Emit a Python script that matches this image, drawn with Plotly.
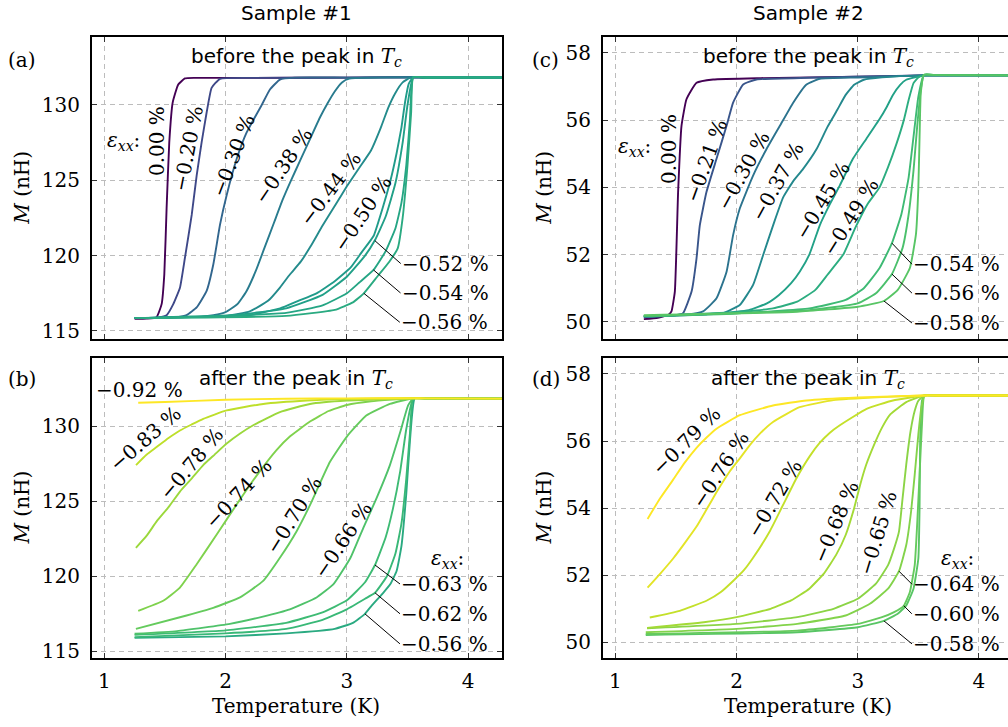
import plotly.graph_objects as go
from plotly.colors import sample_colorscale

W, H = 1008, 727
SERIF = "DejaVu Serif"
SANS = "DejaVu Sans"

# ---------------- Sample #1, before the peak (panel a) ----------------
a_strain = [0.00, -0.20, -0.30, -0.38, -0.44, -0.50, -0.52, -0.54, -0.56]
a000_T = [1.25, 1.35, 1.43, 1.473, 1.495, 1.514, 1.536, 1.564, 1.61, 1.665, 1.75, 2.2, 3.0, 3.547, 3.65, 4.3]
a000_M = [115.8, 115.82, 115.9, 116.78, 118.75, 123.14, 127.53, 130.16, 131.36, 131.76, 131.8, 131.8, 131.82, 131.84, 131.83, 131.82]
a020_T = [1.25, 1.45, 1.514, 1.569, 1.624, 1.665, 1.721, 1.762, 1.803, 1.844, 1.885, 1.954, 2.2, 3.0, 3.547, 3.65, 4.3]
a020_M = [115.85, 115.9, 116.05, 116.78, 117.87, 119.85, 122.7, 125.33, 127.53, 129.5, 131.14, 131.74, 131.8, 131.82, 131.84, 131.83, 131.82]
a030_T = [1.25, 1.6, 1.679, 1.762, 1.844, 1.899, 1.954, 2.009, 2.092, 2.174, 2.298, 2.366, 2.448, 2.572, 3.0, 3.547, 3.65, 4.3]
a030_M = [115.85, 115.92, 116.05, 116.56, 117.66, 119.41, 122.04, 124.01, 126.43, 128.18, 130.0, 131.03, 131.69, 131.82, 131.82, 131.84, 131.83, 131.82]
a038_T = [1.25, 1.8, 1.9, 2.0, 2.1, 2.17, 2.25, 2.32, 2.4, 2.47, 2.54, 2.62, 2.7, 2.78, 2.84, 2.9, 2.96, 3.02, 3.547, 3.65, 4.3]
a038_M = [115.85, 115.95, 116.05, 116.25, 116.8, 117.6, 119.0, 120.5, 122.2, 123.7, 125.0, 126.4, 127.8, 129.2, 130.1, 130.9, 131.5, 131.75, 131.84, 131.83, 131.82]
a044_T = [1.25, 2.0, 2.2, 2.35, 2.45, 2.53, 2.62, 2.7, 2.8, 2.9, 3.0, 3.1, 3.2, 3.28, 3.34, 3.4, 3.46, 3.52, 3.547, 3.65, 4.3]
a044_M = [115.85, 116.0, 116.3, 117.0, 117.9, 118.75, 119.6, 120.6, 122.0, 123.3, 124.6, 125.8, 127.0, 128.5, 129.8, 130.8, 131.5, 131.8, 131.84, 131.83, 131.82]
a050_T = [1.25, 2.2, 2.45, 2.6, 2.75, 2.9, 3.03, 3.12, 3.22, 3.3, 3.36, 3.41, 3.45, 3.48, 3.51, 3.547, 3.65, 4.3]
a050_M = [115.85, 116.05, 116.5, 117.0, 117.5, 118.3, 119.2, 120.2, 121.3, 123.3, 125.0, 126.8, 128.5, 130.2, 131.4, 131.84, 131.83, 131.82]
a052_T = [1.25, 2.0, 2.5, 2.8, 3.0, 3.15, 3.23, 3.32, 3.4, 3.46, 3.5, 3.547, 3.65, 4.3]
a052_M = [115.85, 116.0, 116.5, 117.4, 118.6, 120.0, 121.0, 122.6, 124.8, 127.5, 130.0, 131.84, 131.83, 131.82]
a054_T = [1.25, 2.5, 2.8, 3.0, 3.1, 3.22, 3.32, 3.4, 3.45, 3.49, 3.52, 3.547, 3.65, 4.3]
a054_M = [115.85, 116.2, 116.7, 117.5, 118.2, 119.05, 120.3, 121.8, 123.5, 126.0, 129.0, 131.84, 131.83, 131.82]
a056_T = [1.25, 2.5, 2.9, 3.05, 3.14, 3.25, 3.35, 3.42, 3.46, 3.5, 3.53, 3.547, 3.65, 4.3]
a056_M = [115.85, 116.0, 116.4, 116.9, 117.5, 118.6, 119.6, 120.5, 122.5, 126.0, 129.5, 131.84, 131.83, 131.82]

# ---------------- Sample #1, after the peak (panel b) ----------------
b_strain = [-0.56, -0.62, -0.63, -0.66, -0.70, -0.74, -0.78, -0.83, -0.92]
b056_T = [1.25, 2.0, 2.5, 2.9, 3.05, 3.149, 3.2, 3.3, 3.36, 3.41, 3.45, 3.49, 3.52, 3.56, 3.65, 4.3]
b056_M = [115.9, 116.0, 116.2, 116.5, 116.9, 117.5, 118.0, 118.9, 119.5, 120.35, 122.0, 125.5, 129.0, 131.85, 131.84, 131.82]
b062_T = [1.25, 2.0, 2.5, 2.8, 3.0, 3.15, 3.232, 3.33, 3.4, 3.45, 3.49, 3.52, 3.547, 3.65, 4.3]
b062_M = [115.95, 116.2, 116.5, 117.1, 117.8, 118.5, 118.9, 120.0, 121.5, 123.5, 126.5, 129.5, 131.85, 131.84, 131.82]
b063_T = [1.25, 2.0, 2.5, 2.8, 3.0, 3.15, 3.232, 3.32, 3.38, 3.44, 3.49, 3.547, 3.65, 4.3]
b063_M = [116.1, 116.4, 116.9, 117.6, 118.4, 119.6, 120.75, 122.6, 124.5, 127.0, 129.8, 131.85, 131.84, 131.82]
b066_T = [1.25, 1.6, 2.036, 2.3, 2.53, 2.75, 2.89, 3.03, 3.135, 3.245, 3.355, 3.44, 3.505, 3.547, 3.65, 4.3]
b066_M = [116.17, 116.35, 116.83, 117.3, 117.8, 118.59, 119.47, 121.23, 123.21, 125.2, 127.4, 129.6, 131.37, 131.85, 131.84, 131.82]
b070_T = [1.261, 1.624, 1.899, 2.119, 2.31, 2.448, 2.586, 2.7, 2.86, 3.0, 3.16, 3.355, 3.547, 3.65, 4.3]
b070_M = [116.5, 117.27, 117.9, 118.6, 119.69, 121.23, 123.0, 124.8, 127.6, 129.3, 130.7, 131.47, 131.85, 131.84, 131.82]
b074_T = [1.28, 1.486, 1.624, 1.762, 1.927, 2.09, 2.256, 2.42, 2.53, 2.696, 2.85, 3.0, 3.2, 3.547, 3.65, 4.3]
b074_M = [117.7, 118.37, 119.25, 120.8, 122.78, 124.76, 126.7, 128.4, 129.3, 130.3, 131.0, 131.4, 131.65, 131.85, 131.84, 131.82]
b078_T = [1.261, 1.35, 1.432, 1.53, 1.624, 1.72, 1.816, 1.91, 2.009, 2.12, 2.228, 2.448, 2.696, 3.0, 3.547, 3.65, 4.3]
b078_M = [121.89, 122.7, 123.65, 124.6, 125.64, 126.5, 127.4, 128.1, 128.83, 129.5, 130.05, 130.93, 131.47, 131.7, 131.85, 131.84, 131.82]
b083_T = [1.262, 1.35, 1.432, 1.53, 1.624, 1.72, 1.816, 2.009, 2.31, 2.67, 3.0, 3.547, 3.65, 4.3]
b083_M = [127.4, 128.1, 128.6, 129.2, 129.7, 130.1, 130.48, 131.04, 131.47, 131.7, 131.8, 131.85, 131.84, 131.82]
b092_T = [1.28, 1.5, 2.0, 2.5, 3.0, 3.547, 3.65, 4.3]
b092_M = [131.55, 131.6, 131.75, 131.82, 131.84, 131.85, 131.84, 131.82]

# ---------------- Sample #2, before the peak (panel c) ----------------
c_strain = [0.00, -0.21, -0.30, -0.37, -0.45, -0.49, -0.54, -0.56, -0.58]
c000_T = [1.234, 1.35, 1.44, 1.462, 1.49, 1.517, 1.545, 1.586, 1.669, 1.806, 2.2, 3.0, 3.546, 3.65, 4.3]
c000_M = [50.08, 50.12, 50.22, 50.31, 50.9, 53.86, 55.83, 56.62, 57.11, 57.21, 57.25, 57.29, 57.33, 57.33, 57.33]
c021_T = [1.234, 1.5, 1.558, 1.628, 1.669, 1.696, 1.751, 1.834, 1.917, 1.971, 2.054, 2.164, 2.6, 3.546, 3.65, 4.3]
c021_M = [50.15, 50.2, 50.26, 50.9, 51.89, 52.87, 53.86, 54.85, 55.83, 56.52, 57.06, 57.21, 57.26, 57.33, 57.33, 57.33]
c030_T = [1.234, 1.6, 1.723, 1.834, 1.917, 1.971, 2.026, 2.136, 2.247, 2.357, 2.467, 2.577, 2.687, 3.0, 3.546, 3.65, 4.3]
c030_M = [50.15, 50.22, 50.31, 50.7, 51.49, 52.58, 53.37, 54.35, 55.14, 55.83, 56.52, 57.06, 57.23, 57.27, 57.33, 57.33, 57.33]
c037_T = [1.234, 1.75, 1.889, 2.026, 2.136, 2.219, 2.301, 2.384, 2.47, 2.549, 2.66, 2.75, 2.83, 2.9, 2.97, 3.05, 3.2, 3.546, 3.65, 4.3]
c037_M = [50.15, 50.22, 50.26, 50.5, 51.1, 51.99, 52.87, 53.7, 54.2, 54.55, 55.14, 55.8, 56.3, 56.75, 57.05, 57.2, 57.27, 57.33, 57.33, 57.33]
c045_T = [1.234, 1.8, 2.1, 2.25, 2.35, 2.45, 2.522, 2.6, 2.687, 2.77, 2.852, 2.96, 3.07, 3.18, 3.24, 3.29, 3.35, 3.4, 3.546, 3.65, 4.3]
c045_M = [50.17, 50.25, 50.35, 50.55, 50.8, 51.15, 51.5, 52.0, 52.88, 53.5, 54.06, 54.85, 55.44, 56.03, 56.4, 56.75, 57.05, 57.2, 57.33, 57.33, 57.33]
c049_T = [1.234, 2.0, 2.3, 2.5, 2.65, 2.75, 2.88, 2.98, 3.08, 3.18, 3.25, 3.32, 3.38, 3.42, 3.46, 3.5, 3.546, 3.65, 4.3]
c049_M = [50.17, 50.28, 50.4, 50.6, 50.95, 51.4, 52.0, 52.8, 53.5, 54.0, 54.6, 55.3, 56.0, 56.6, 57.1, 57.27, 57.33, 57.33, 57.33]
c054_T = [1.234, 2.0, 2.6, 2.9, 3.05, 3.18, 3.282, 3.36, 3.42, 3.46, 3.5, 3.546, 3.65, 4.3]
c054_M = [50.17, 50.25, 50.4, 50.65, 51.0, 51.6, 52.34, 53.2, 54.3, 55.5, 56.7, 57.35, 57.34, 57.33]
c056_T = [1.234, 2.6, 3.0, 3.15, 3.282, 3.37, 3.42, 3.46, 3.49, 3.52, 3.546, 3.65, 4.3]
c056_M = [50.17, 50.35, 50.55, 50.85, 51.42, 52.2, 53.2, 54.5, 55.8, 56.9, 57.35, 57.34, 57.33]
c058_T = [1.234, 2.5, 3.0, 3.216, 3.33, 3.43, 3.48, 3.5, 3.51, 3.52, 3.546, 3.65, 4.3]
c058_M = [50.2, 50.3, 50.45, 50.62, 50.95, 51.6, 52.6, 54.0, 55.5, 56.8, 57.35, 57.34, 57.33]

# ---------------- Sample #2, after the peak (panel d) ----------------
d_strain = [-0.58, -0.60, -0.64, -0.65, -0.68, -0.72, -0.76, -0.79]
d058_T = [1.25, 2.5, 3.0, 3.216, 3.33, 3.4, 3.46, 3.5, 3.51, 3.515, 3.53, 3.55, 3.65, 4.3]
d058_M = [50.22, 50.3, 50.45, 50.64, 50.85, 51.1, 51.6, 52.5, 54.0, 56.0, 57.2, 57.36, 57.36, 57.36]
d060_T = [1.25, 2.5, 3.0, 3.2, 3.3, 3.38, 3.43, 3.47, 3.49, 3.51, 3.53, 3.55, 3.65, 4.3]
d060_M = [50.25, 50.35, 50.55, 50.75, 50.9, 51.09, 51.5, 52.3, 53.5, 55.0, 56.5, 57.36, 57.36, 57.36]
d064_T = [1.25, 2.0, 2.5, 2.9, 3.1, 3.25, 3.34, 3.4, 3.44, 3.47, 3.5, 3.525, 3.55, 3.65, 4.3]
d064_M = [50.3, 50.4, 50.55, 50.8, 51.15, 51.6, 52.12, 52.9, 53.9, 55.0, 56.2, 57.0, 57.36, 57.36, 57.36]
d065_T = [1.261, 2.0, 2.5, 2.8, 3.0, 3.15, 3.25, 3.3, 3.34, 3.37, 3.4, 3.436, 3.47, 3.5, 3.55, 3.65, 4.3]
d065_M = [50.42, 50.55, 50.75, 51.0, 51.3, 51.75, 52.3, 52.8, 53.3, 54.3, 55.3, 56.3, 56.9, 57.2, 57.36, 57.36, 57.36]
d068_T = [1.261, 1.729, 2.0, 2.28, 2.45, 2.6, 2.72, 2.82, 2.9, 2.97, 3.02, 3.07, 3.13, 3.2, 3.27, 3.4, 3.55, 3.65, 4.3]
d068_M = [50.43, 50.6, 50.75, 51.0, 51.25, 51.6, 52.05, 52.6, 53.2, 54.0, 54.7, 55.3, 55.85, 56.4, 56.8, 57.16, 57.36, 57.36, 57.36]
d072_T = [1.283, 1.531, 1.751, 1.87, 1.971, 2.06, 2.136, 2.274, 2.384, 2.494, 2.604, 2.687, 2.77, 2.852, 3.073, 3.29, 3.55, 3.65, 4.3]
d072_M = [50.74, 50.94, 51.24, 51.5, 51.83, 52.15, 52.52, 53.31, 54.1, 54.89, 55.55, 55.95, 56.25, 56.47, 56.96, 57.21, 57.36, 57.36, 57.36]
d076_T = [1.265, 1.37, 1.476, 1.57, 1.669, 1.75, 1.83, 1.944, 2.03, 2.109, 2.2, 2.3, 2.52, 2.8, 3.2, 3.55, 3.65, 4.3]
d076_M = [51.63, 52.05, 52.5, 52.95, 53.45, 53.95, 54.45, 55.1, 55.5, 55.88, 56.25, 56.57, 57.01, 57.22, 57.31, 57.36, 57.36, 57.36]
d079_T = [1.265, 1.37, 1.476, 1.57, 1.669, 1.75, 1.834, 2.026, 2.3, 2.577, 3.0, 3.55, 3.65, 4.3]
d079_M = [53.68, 54.3, 54.85, 55.35, 55.8, 56.1, 56.37, 56.77, 57.06, 57.21, 57.3, 57.36, 57.36, 57.36]

x_ticks = [1, 2, 3, 4]
s1_yticks = [115, 120, 125, 130]
s2_yticks = [50, 52, 54, 56, 58]

panels = [
    dict(ax="x", ay="y", norm=0.92, strain=a_strain,
         curves=[(a000_T, a000_M), (a020_T, a020_M), (a030_T, a030_M), (a038_T, a038_M), (a044_T, a044_M),
                 (a050_T, a050_M), (a052_T, a052_M), (a054_T, a054_M), (a056_T, a056_M)]),
    dict(ax="x2", ay="y2", norm=0.92, strain=b_strain,
         curves=[(b056_T, b056_M), (b062_T, b062_M), (b063_T, b063_M), (b066_T, b066_M), (b070_T, b070_M),
                 (b074_T, b074_M), (b078_T, b078_M), (b083_T, b083_M), (b092_T, b092_M)]),
    dict(ax="x3", ay="y3", norm=0.79, strain=c_strain,
         curves=[(c000_T, c000_M), (c021_T, c021_M), (c030_T, c030_M), (c037_T, c037_M), (c045_T, c045_M),
                 (c049_T, c049_M), (c054_T, c054_M), (c056_T, c056_M), (c058_T, c058_M)]),
    dict(ax="x4", ay="y4", norm=0.79, strain=d_strain,
         curves=[(d058_T, d058_M), (d060_T, d060_M), (d064_T, d064_M), (d065_T, d065_M), (d068_T, d068_M),
                 (d072_T, d072_M), (d076_T, d076_M), (d079_T, d079_M)]),
]

fig = go.Figure()
for p in panels:
    for s, (T, M) in zip(p["strain"], p["curves"]):
        col = sample_colorscale("Viridis", [min(abs(s) / p["norm"], 1.0)])[0]
        fig.add_trace(go.Scatter(x=T, y=M, mode="lines", xaxis=p["ax"], yaxis=p["ay"],
                                 line=dict(color=col, width=1.9, shape="spline", smoothing=0.4),
                                 hoverinfo="skip", showlegend=False))

# ---------------- axes ----------------
def px_x(v):
    return v / W

def px_y(v):
    return 1 - v / H

L_DOM = [px_x(92), px_x(502)]
R_DOM = [px_x(603), 1.0]
T_DOM = [px_y(341), px_y(37)]
B_DOM = [px_y(663), px_y(360)]

grid = dict(showgrid=True, gridcolor="#bcbcbc", gridwidth=1, griddash="5px,4px", zeroline=False,
            showline=True, linecolor="black", linewidth=2, ticks="inside", ticklen=5,
            tickcolor="#333", tickwidth=1,
            tickfont=dict(family=SERIF, size=20, color="black"))

def xax(dom, rng, anchor, labels, mirror="ticks"):
    d = dict(grid)
    d.update(domain=dom, range=rng, anchor=anchor, tickvals=x_ticks, showticklabels=labels,
             mirror=mirror, ticklabelstandoff=4)
    return d

def yax(dom, rng, anchor, ticks, mirror):
    d = dict(grid)
    d.update(domain=dom, range=rng, anchor=anchor, tickvals=ticks, mirror=mirror, ticklabelstandoff=6)
    return d

L_RNG = [0.899, 4.279]
R_RNG = [0.897, 4.240]

fig.update_layout(
    width=W, height=H, margin=dict(l=0, r=0, t=0, b=0),
    paper_bgcolor="white", plot_bgcolor="white", showlegend=False,
    xaxis=xax(L_DOM, L_RNG, "y", False),
    yaxis=yax(T_DOM, [114.49, 134.53], "x", s1_yticks, "ticks"),
    xaxis2=xax(L_DOM, L_RNG, "y2", True),
    yaxis2=yax(B_DOM, [114.53, 134.56], "x2", s1_yticks, "ticks"),
    xaxis3=xax(R_DOM, R_RNG, "y3", False),
    yaxis3=yax(T_DOM, [49.5, 58.48], "x3", s2_yticks, False),
    xaxis4=xax(R_DOM, R_RNG, "y4", True),
    yaxis4=yax(B_DOM, [49.52, 58.49], "x4", s2_yticks, False),
)

# ---------------- text ----------------
EPS = "<i>ε</i><sub><i>xx</i></sub>:"
TC = "<span style='font-family:DejaVu Serif'><i>T</i><sub><i>c</i></sub></span>"

ann = []

def ptext(x, y, text, angle=0, size=20, family=SERIF):
    ann.append(dict(xref="paper", yref="paper", x=px_x(x), y=px_y(y), text=text, textangle=angle,
                    showarrow=False, xanchor="center", yanchor="middle",
                    font=dict(family=family, size=size, color="black")))

def leader(xr, yr, T, M, dx, dy, text):
    ann.append(dict(xref=xr, yref=yr, x=T, y=M, ax=dx, ay=dy, text=text, showarrow=True,
                    arrowhead=0, arrowwidth=1, arrowcolor="black", standoff=0,
                    xanchor="left", yanchor="middle", borderpad=0,
                    font=dict(family=SERIF, size=20, color="black")))

# column headers
ptext(296, 13, "Sample #1", size=20, family=SANS)
ptext(808, 13, "Sample #2", size=20, family=SANS)
# panel titles
ptext(296, 57, "before the peak in " + TC, size=20, family=SANS)
ptext(808, 57, "before the peak in " + TC, size=20, family=SANS)
ptext(296, 382, "after the peak in " + TC, size=20, family=SANS)
ptext(808, 382, "after the peak in " + TC, size=20, family=SANS)
# panel letters
ptext(22, 60, "(a)")
ptext(22, 382, "(b)")
ptext(545, 60, "(c)")
ptext(546, 382, "(d)")
# axis titles
for yc in (189, 511):
    ptext(22, yc, "<i>M</i> (nH)", angle=-90)
    ptext(544, yc, "<i>M</i> (nH)", angle=-90)
ptext(296, 711, "Temperature (K)")
ptext(808, 711, "Temperature (K)")

# panel a labels
ptext(123, 142, EPS)
ptext(157, 142, "0.00 %", -90)
ptext(188, 150, "−0.20 %", -79)
ptext(233, 157, "−0.30 %", -69)
ptext(283, 167, "−0.38 %", -56)
ptext(330, 190, "−0.44 %", -53)
ptext(362, 215, "−0.50 %", -56)
leader("x", "y", 3.23, 121.0, 26, 23, "−0.52 %")
leader("x", "y", 3.22, 119.05, 27, 23, "−0.54 %")
leader("x", "y", 3.14, 117.5, 36, 29, "−0.56 %")

# panel b labels
ptext(139, 393, "−0.92 %")
ptext(145, 442, "−0.83 %", -41)
ptext(191, 467, "−0.78 %", -50)
ptext(238, 497, "−0.74 %", -47)
ptext(294, 519, "−0.70 %", -58)
ptext(343, 544, "−0.66 %", -56)
ptext(447, 563, EPS)
leader("x2", "y2", 3.232, 120.75, 25, 19, "−0.63 %")
leader("x2", "y2", 3.232, 118.9, 25, 21, "−0.62 %")
leader("x2", "y2", 3.149, 117.5, 35, 30, "−0.56 %")

# panel c labels
ptext(634, 148, EPS)
ptext(669, 150, "0.00 %", -90)
ptext(706, 162, "−0.21 %", -70)
ptext(743, 172, "−0.30 %", -61)
ptext(777, 183, "−0.37 %", -61)
ptext(822, 202, "−0.45 %", -59)
ptext(851, 219, "−0.49 %", -58)
leader("x3", "y3", 3.282, 52.34, 20, 21, "−0.54 %")
leader("x3", "y3", 3.282, 51.42, 20, 19, "−0.56 %")
leader("x3", "y3", 3.216, 50.62, 28, 22, "−0.58 %")

# panel d labels
ptext(686, 444, "−0.79 %", -45)
ptext(720, 473, "−0.76 %", -57)
ptext(774, 502, "−0.72 %", -59)
ptext(836, 526, "−0.68 %", -67)
ptext(878, 537, "−0.65 %", -73)
ptext(957, 563, EPS)
leader("x4", "y4", 3.34, 52.12, 13, 13, "−0.64 %")
leader("x4", "y4", 3.38, 51.09, 8, 8, "−0.60 %")
leader("x4", "y4", 3.216, 50.64, 28, 23, "−0.58 %")

fig.update_layout(annotations=ann)
fig.write_html("out.html")
